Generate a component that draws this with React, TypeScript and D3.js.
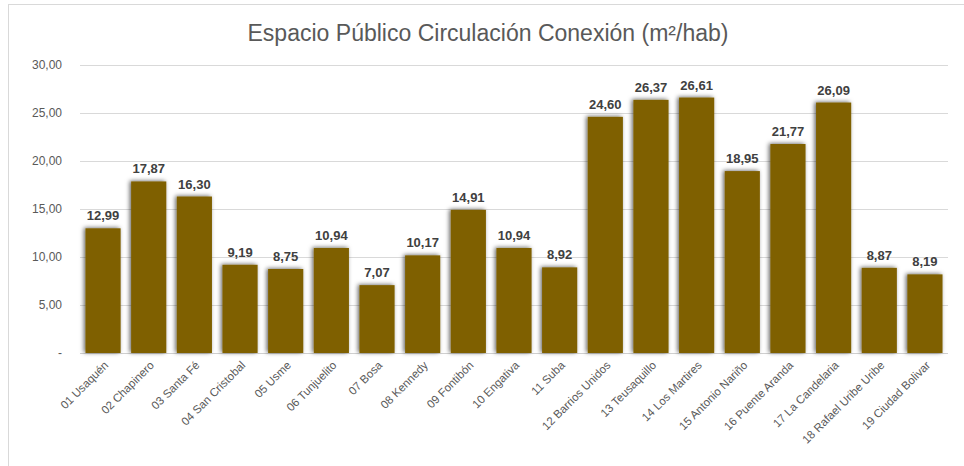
import React, { useRef, useEffect } from 'react';
import * as d3 from 'd3';

const categories = [
  '01 Usaquén', '02 Chapinero', '03 Santa Fé', '04 San Cristobal', '05 Usme',
  '06 Tunjuelito', '07 Bosa', '08 Kennedy', '09 Fontibón', '10 Engativa',
  '11 Suba', '12 Barrios Unidos', '13 Teusaquillo', '14 Los Martires',
  '15 Antonio Nariño', '16 Puente Aranda', '17 La Candelaria',
  '18 Rafael Uribe Uribe', '19 Ciudad Bolivar',
];
const values = [
  12.99, 17.87, 16.3, 9.19, 8.75, 10.94, 7.07, 10.17, 14.91, 10.94,
  8.92, 24.6, 26.37, 26.61, 18.95, 21.77, 26.09, 8.87, 8.19,
];
const yTicks = [0, 5, 10, 15, 20, 25, 30];

const W = 964;
const H = 466;
const FONT = '"Liberation Sans", Arial, sans-serif';

const fmt = (v: number) => (v === 0 ? '-' : v.toFixed(2).replace('.', ','));

const App = () => {
  const svgRef = useRef<SVGSVGElement>(null);

  useEffect(() => {
    if (!svgRef.current) return;
    const svg = d3.select(svgRef.current);
    svg.selectAll('*').remove();

    const x = d3.scaleBand().domain(categories).range([80, 948]).paddingInner(0.23).paddingOuter(0.12);
    const y = d3.scaleLinear().domain([0, 30]).range([353, 65]);

    // soft shadow round the bars, as Excel draws it
    const defs = svg.append('defs');
    const f = defs.append('filter').attr('id', 'shd').attr('x', '-30%').attr('y', '-10%').attr('width', '160%').attr('height', '130%');
    f.append('feDropShadow').attr('dx', -1.5).attr('dy', -0.5).attr('stdDeviation', 2.2).attr('flood-color', '#000').attr('flood-opacity', 0.6);

    svg.append('rect').attr('width', W).attr('height', H).attr('fill', '#fff');
    svg.append('rect').attr('x', 8.5).attr('y', 4.5).attr('width', 980).attr('height', 480)
      .attr('fill', '#fff').attr('stroke', '#d9d9d9');

    svg.append('text').attr('x', 488).attr('y', 41).attr('text-anchor', 'middle')
      .attr('font-family', FONT).attr('font-size', 23).attr('fill', '#595959')
      .attr('textLength', 481).attr('lengthAdjust', 'spacingAndGlyphs')
      .text('Espacio Público Circulación Conexión (m²/hab)');

    // grid
    svg.append('g').selectAll('line').data(yTicks).enter().append('line')
      .attr('x1', 80).attr('x2', 948)
      .attr('y1', d => Math.round(y(d)) + 0.5).attr('y2', d => Math.round(y(d)) + 0.5)
      .attr('stroke', d => (d === 0 ? '#d0d0d0' : '#d9d9d9')).attr('stroke-width', 1);

    svg.append('g').selectAll('text').data(yTicks).enter().append('text')
      .attr('x', 62).attr('y', d => y(d) + 4).attr('text-anchor', 'end')
      .attr('font-family', FONT).attr('font-size', 12).attr('fill', '#595959')
      .text(d => fmt(d));

    // bars
    svg.append('g').selectAll('rect').data(values).enter().append('rect')
      .attr('x', (d, i) => x(categories[i])!)
      .attr('y', d => y(d))
      .attr('width', x.bandwidth())
      .attr('height', d => y(0) - y(d))
      .attr('fill', '#7f6000')
      .attr('filter', 'url(#shd)');

    // value labels
    svg.append('g').selectAll('text').data(values).enter().append('text')
      .attr('x', (d, i) => x(categories[i])! + x.bandwidth() / 2)
      .attr('y', d => y(d) - 8)
      .attr('text-anchor', 'middle')
      .attr('font-family', FONT).attr('font-size', 13).attr('font-weight', 'bold').attr('fill', '#404040')
      .text(d => fmt(d));

    // category labels
    svg.append('g').selectAll('text').data(categories).enter().append('text')
      .attr('transform', d => `translate(${x(d)! + x.bandwidth() / 2 + 6},${366}) rotate(-45)`)
      .attr('text-anchor', 'end')
      .attr('font-family', FONT).attr('font-size', 11.5).attr('fill', '#595959')
      .text(d => d);
  }, []);

  return <svg ref={svgRef} width={W} height={H} style={{ position: 'absolute', left: 0, top: 0 }} />;
};

export default App;
